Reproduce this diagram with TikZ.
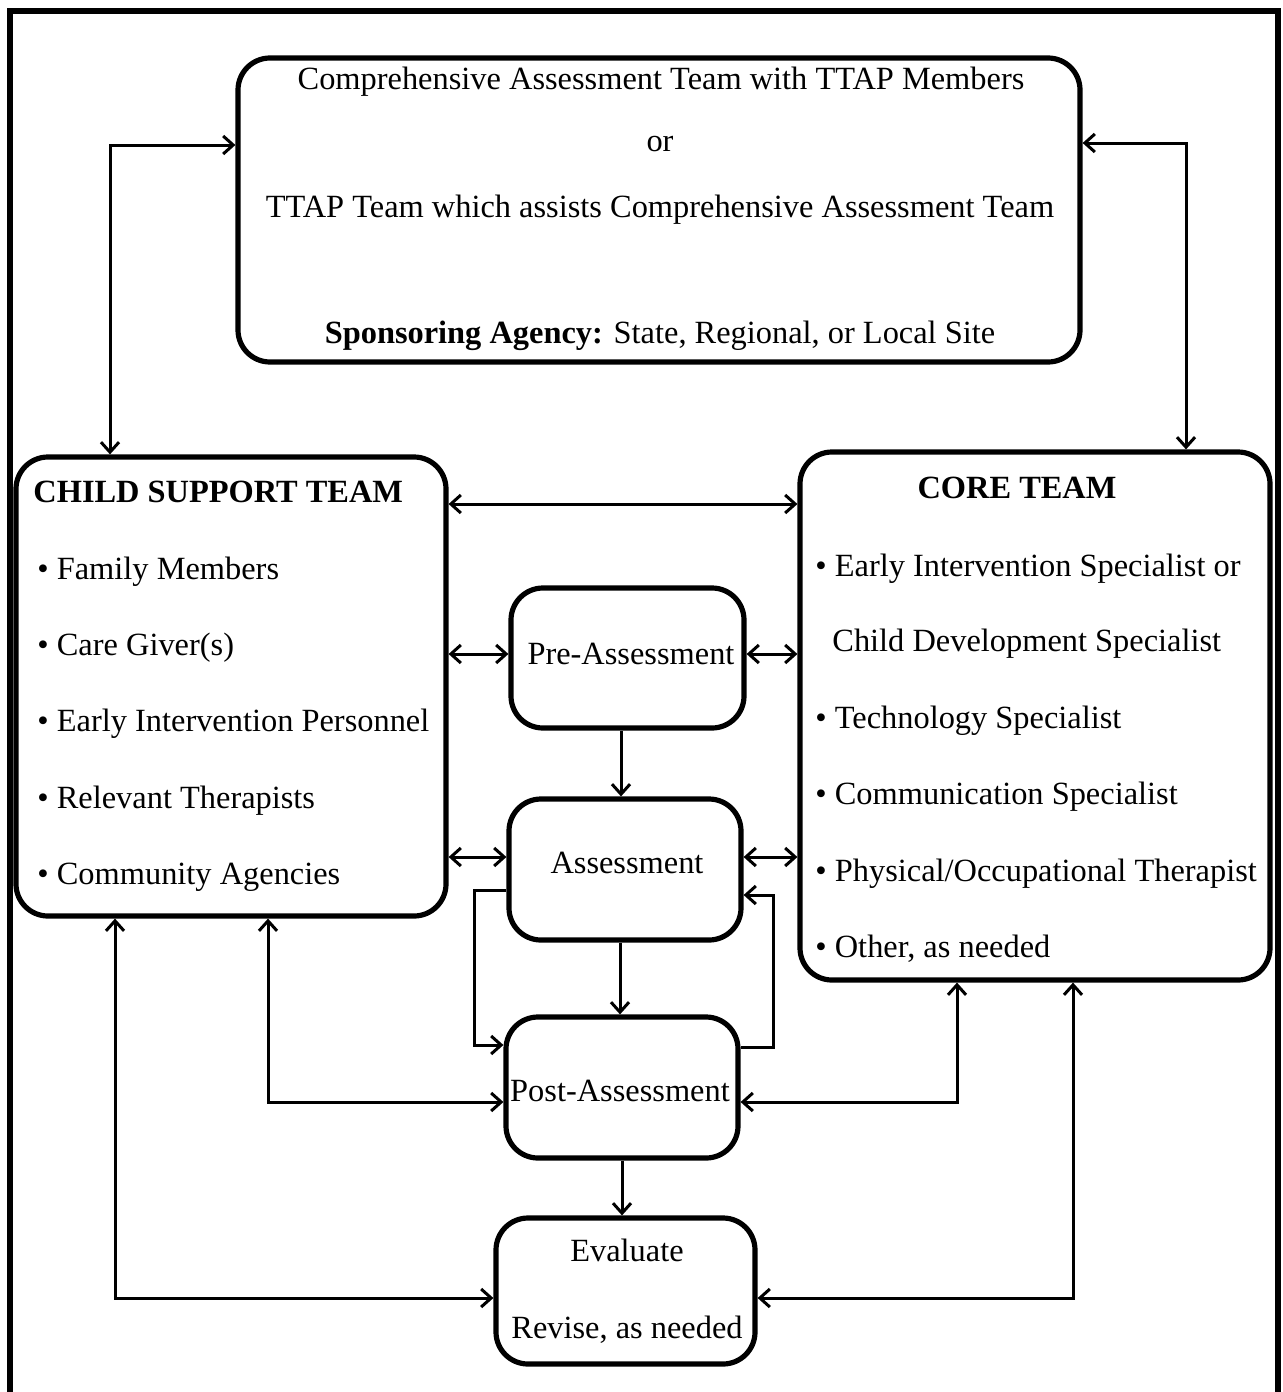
\documentclass[tikz,border=0pt]{standalone}
\usepackage{fontspec}
\setmainfont{Liberation Serif}
\usetikzlibrary{arrows.meta}
\begin{document}
\begin{tikzpicture}[x=0.5pt,y=-0.5pt,
  box/.style={draw,line width=2.6pt,rounded corners=16pt,inner sep=0pt},
  conn/.style={line width=1.5pt},
  arr/.style={-{Straight Barb[length=5pt,width=9pt,line width=1.5pt]}},
  both/.style={{Straight Barb[length=5pt,width=9pt,line width=1.5pt]}-{Straight Barb[length=5pt,width=9pt,line width=1.5pt]}},
  txt/.style={font=\fontsize{16.2}{20}\selectfont,inner sep=0pt,anchor=base west},
  ctxt/.style={txt,anchor=base}]
\useasboundingbox (0,0) rectangle (1282,1392);
\draw[line width=2.6pt] (10,1392) -- (10,11) -- (1278,11) -- (1278,1392);

\node[box,minimum width=421pt,minimum height=152pt] (top) at (659,210) {};
\node[box,minimum width=215pt,minimum height=229.5pt] (csbox) at (231,686.5) {};
\node[box,minimum width=235pt,minimum height=264pt] (core) at (1035,716) {};
\node[box,minimum width=116.5pt,minimum height=70pt] (pre) at (627.5,658) {};
\node[box,minimum width=116pt,minimum height=70.5pt] (asm) at (625,869.5) {};
\node[box,minimum width=116pt,minimum height=70.5pt] (post) at (622,1087.5) {};
\node[box,minimum width=129.5pt,minimum height=73pt] (eval) at (625.5,1291) {};

% top box text
\node[ctxt] (t1) at (661,89) {Comprehensive Assessment Team with TTAP Members};
\node[ctxt] (t2) at (660,151) {or};
\node[ctxt] (t3) at (660,217) {TTAP Team which assists Comprehensive Assessment Team};
\node[ctxt] (t4) at (660,343) {\textbf{Sponsoring Agency:} State, Regional, or Local Site};

% child support team
\node[txt] (c0) at (33,502) {\textbf{CHILD SUPPORT TEAM}};
\node[txt] (c1) at (37,579) {• Family Members};
\node[txt] (c2) at (37,655) {• Care Giver(s)};
\node[txt] (c3) at (37,731) {• Early Intervention Personnel};
\node[txt] (c4) at (37,808) {• Relevant Therapists};
\node[txt] (c5) at (37,884) {• Community Agencies};

% core team
\node[ctxt] (k0) at (1017,498) {\textbf{CORE TEAM}};
\node[txt] (k1) at (815,576) {• Early Intervention Specialist or};
\node[txt] (k2) at (832,651) {Child Development Specialist};
\node[txt] (k3) at (815,728) {• Technology Specialist};
\node[txt] (k4) at (815,804) {• Communication Specialist};
\node[txt] (k5) at (815,881) {• Physical/Occupational Therapist};
\node[txt] (k6) at (815,957) {• Other, as needed};

% process boxes
\node[ctxt] (p1) at (631,664) {Pre-Assessment};
\node[ctxt] (p2) at (627,873) {Assessment};
\node[ctxt] (p3) at (620,1101) {Post-Assessment};
\node[ctxt] (e1) at (627,1261) {Evaluate};
\node[ctxt] (e2) at (627,1338) {Revise, as needed};

% connectors
\draw[conn,both] (top.west |- 0,145) -| (csbox.north -| 110,0);
\draw[conn,both] (top.east |- 0,143) -| (core.north -| 1186,0);
\draw[conn,both] (csbox.east |- 0,504) -- (core.west |- 0,504);
\draw[conn,both] (csbox.east |- 0,654) -- (pre.west |- 0,654);
\draw[conn,both] (pre.east |- 0,654) -- (core.west |- 0,654);
\draw[conn,arr] (pre.south -| 621,0) -- (asm.north -| 621,0);
\draw[conn,both] (csbox.east |- 0,857) -- (asm.west |- 0,857);
\draw[conn,both] (asm.east |- 0,857) -- (core.west |- 0,857);
\draw[conn,arr] (asm.west |- 0,890) -| (474,1045) -- (post.west |- 0,1045);
\draw[conn,arr] (post.east |- 0,1047) -| (773,895) -- (asm.east |- 0,895);
\draw[conn,arr] (asm.south -| 620,0) -- (post.north -| 620,0);
\draw[conn,both] (csbox.south -| 268,0) |- (post.west |- 0,1102);
\draw[conn,both] (core.south -| 957,0) |- (post.east |- 0,1102);
\draw[conn,arr] (post.south -| 622,0) -- (eval.north -| 622,0);
\draw[conn,both] (csbox.south -| 115,0) |- (eval.west |- 0,1298);
\draw[conn,both] (core.south -| 1073,0) |- (eval.east |- 0,1298);
\end{tikzpicture}
\end{document}
